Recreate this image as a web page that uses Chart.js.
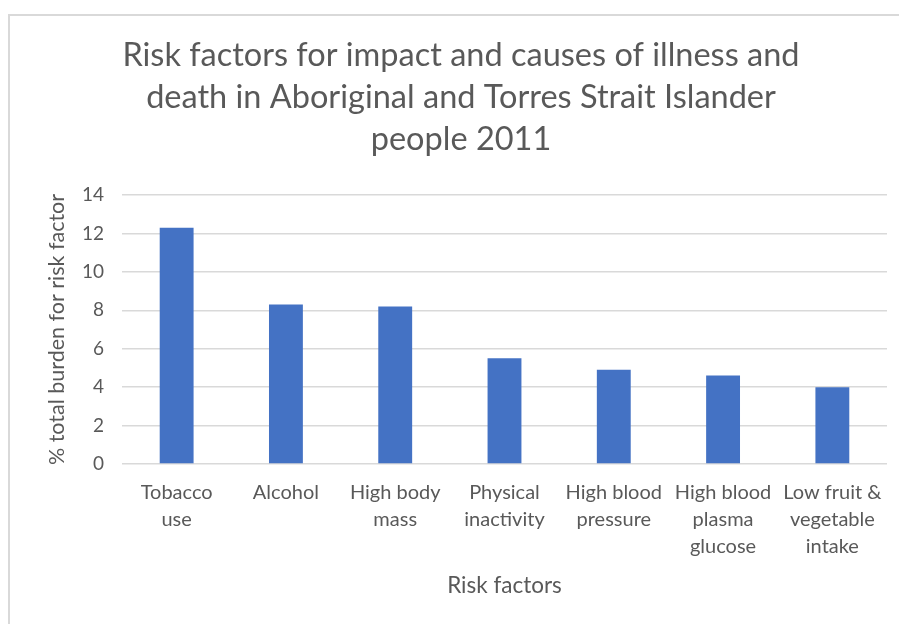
<!DOCTYPE html>
<html>
<head>
<meta charset="utf-8">
<script src="https://cdn.jsdelivr.net/npm/chart.js@4.4.1/dist/chart.umd.min.js"></script>
<style>
  html, body { margin: 0; padding: 0; background: #ffffff; overflow: hidden; }
  #wrap { position: relative; width: 899px; height: 624px; }
  #frame { position: absolute; left: 8px; top: 14px; width: 900px; height: 620px;
           border-left: 2px solid #d9d9d9; border-top: 2px solid #d9d9d9; box-sizing: border-box; }
  #c { position: absolute; left: 0; top: 0; }
</style>
</head>
<body>
<div id="wrap">
  <div id="frame"></div>
  <canvas id="c" width="899" height="624"></canvas>
</div>
<script>
const titleLines = ["Risk factors for impact and causes of illness and", "death in Aboriginal and Torres Strait Islander", "people 2011"];
const categories = [["Tobacco", "use"], ["Alcohol"], ["High body", "mass"], ["Physical", "inactivity"], ["High blood", "pressure"], ["High blood", "plasma", "glucose"], ["Low fruit &", "vegetable", "intake"]];
const burdenValues = [12.3, 8.3, 8.2, 5.5, 4.9, 4.6, 4.0];
const yTicks = [0, 2, 4, 6, 8, 10, 12, 14];
const xAxisTitle = "Risk factors";
const yAxisTitle = "% total burden for risk factor";

const FONT = "Lato, 'Open Sans', sans-serif";
const GREY = "#595959";
const PAD_LEFT = 35;

new Chart(document.getElementById('c'), {
  type: 'bar',
  data: {
    labels: categories,
    datasets: [{
      data: burdenValues,
      backgroundColor: '#4472C4',
      borderWidth: 0,
      categoryPercentage: 1,
      barPercentage: 0.31
    }]
  },
  options: {
    responsive: false,
    animation: false,
    devicePixelRatio: 1,
    layout: { padding: { left: PAD_LEFT, right: 12, top: 0, bottom: 0 } },
    plugins: {
      legend: { display: false },
      tooltip: { enabled: false },
      title: {
        display: true,
        text: titleLines,
        color: GREY,
        font: { family: FONT, size: 32.5, weight: 'normal', lineHeight: 42 / 32.5 },
        padding: { top: 35, bottom: 34 }
      }
    },
    scales: {
      x: {
        grid: { display: false, drawTicks: false },
        border: { display: false },
        ticks: {
          color: GREY,
          font: { family: FONT, size: 20, lineHeight: 1.35 },
          padding: 15,
          maxRotation: 0,
          minRotation: 0,
          autoSkip: false
        },
        title: {
          display: true,
          text: xAxisTitle,
          color: GREY,
          font: { family: FONT, size: 22.5, lineHeight: 1.2 },
          padding: { top: 0, bottom: 24.5 }
        },
        afterFit: (scale) => { scale.height = 624 - 464; }
      },
      y: {
        min: 0,
        max: 14,
        afterBuildTicks: (scale) => { scale.ticks = yTicks.map(v => ({ value: v })); },
        grid: { color: '#d9d9d9', lineWidth: 1.5, drawTicks: false },
        border: { display: false },
        ticks: {
          color: GREY,
          font: { family: FONT, size: 19 },
          padding: 18
        },
        title: {
          display: true,
          text: yAxisTitle,
          color: GREY,
          font: { family: FONT, size: 21.5, lineHeight: 1.2 },
          padding: { top: 44 - PAD_LEFT, bottom: 0 }
        },
        afterFit: (scale) => { scale.width = 122 - PAD_LEFT; }
      }
    }
  }
});
</script>
</body>
</html>
